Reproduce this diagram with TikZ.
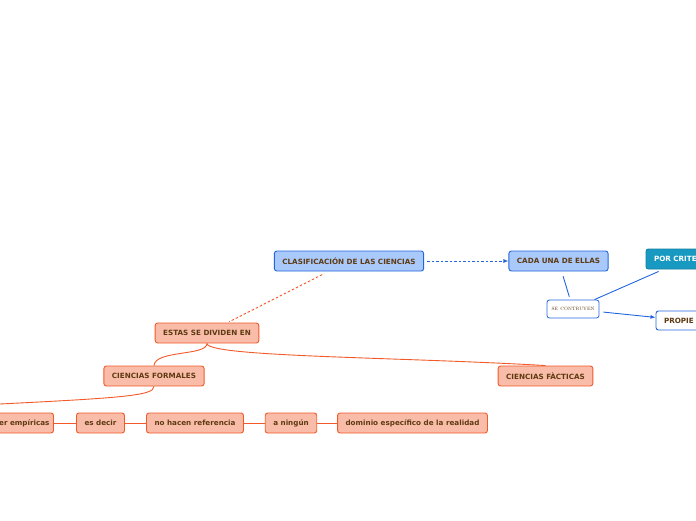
\documentclass[tikz,border=0pt]{standalone}
\usepackage{fontspec}
\newfontfamily\vfont{DejaVu Sans}
\usetikzlibrary{arrows.meta}
\definecolor{bfill}{HTML}{A9C9FA}
\definecolor{bline}{HTML}{2266DD}
\definecolor{tfill}{HTML}{1899C1}
\definecolor{ofill}{HTML}{F9BCA8}
\definecolor{oline}{HTML}{F25A2A}
\definecolor{txt}{HTML}{5E3A12}
\tikzset{
  base/.style={rounded corners=2.5pt, line width=0.9pt, minimum height=20pt, inner xsep=8pt, inner ysep=0pt,
    font=\vfont\bfseries\fontsize{7.2}{8}\selectfont, text=txt},
  bluebox/.style={base, draw=bline, fill=bfill},
  tealbox/.style={base, draw=tfill!85!black, fill=tfill, text=white},
  whitebox/.style={base, draw=bline, fill=white},
  smallbox/.style={rounded corners=2.5pt, line width=0.8pt, draw=bline, fill=white, minimum width=52pt, minimum height=18pt,
    inner sep=0pt, font=\fontsize{6.3}{6.3}\selectfont\scshape, text=txt},
  obox/.style={base, draw=oline, fill=ofill},
  bconn/.style={draw=bline, line width=0.9pt},
  oconn/.style={draw=oline, line width=0.9pt},
}
\begin{document}
\begin{tikzpicture}[x=1pt,y=-1pt]
\useasboundingbox (0,0) rectangle (696,520);
\clip (0,0) rectangle (696,520);
\fill[white] (0,0) rectangle (696,520);
% blue part
\node[bluebox] (clas) at (349,261) {CLASIFICACIÓN DE LAS CIENCIAS};
\node[bluebox] (cada) at (558.5,261) {CADA UNA DE ELLAS};
\node[tealbox, minimum width=82pt, text width=66pt, align=left] (por) at (687,259) {POR CRITE};
\node[whitebox, minimum height=19pt, minimum width=60pt, text width=44pt, align=left] (prop) at (686,320.5) {PROPIE};
\node[smallbox] (se) at (573,309) {se contruyen};
% orange part
\node[obox] (estas) at (207,333) {ESTAS SE DIVIDEN EN};
\node[obox] (form) at (154,376) {CIENCIAS FORMALES};
\node[obox] (fact) at (545.5,376) {CIENCIAS FÀCTICAS};
\node[obox, inner xsep=4pt, minimum width=80pt, text width=72pt, align=right] (ser) at (13.5,423) {er empíricas};
\node[obox] (es) at (100.5,423) {es decir};
\node[obox] (no) at (195,423) {no hacen referencia};
\node[obox] (ning) at (291,423) {a ningún};
\node[obox] (dom) at (412.5,423) {dominio específico de la realidad};
\coordinate (offleft) at (-20,405);
% connectors
\draw[bconn, dashed, dash pattern=on 2.5pt off 2pt, -{Latex[length=5pt,width=4pt]}, shorten <=3pt] (clas) -- (cada);
\draw[bconn, shorten <=5pt, shorten >=3pt] (cada) -- (se);
\draw[bconn, shorten >=5pt] (se) -- (por);
\draw[bconn, shorten <=4pt, -{Latex[length=5pt,width=4pt]}] (se) -- (prop);
\draw[oconn, dashed, dash pattern=on 2.5pt off 2pt, shorten <=7pt, shorten >=2pt] (clas) -- (estas);
\draw[oconn] (estas.south) .. controls (207,356) and (155,350) .. (form.north);
\draw[oconn] (estas.south) .. controls (207,357) and (400,357) .. (fact.north);
\draw[oconn] (form.south) .. controls (154,396) and (120,398) .. (offleft);
\draw[oconn] (ser) -- (es);
\draw[oconn] (es) -- (no);
\draw[oconn] (no) -- (ning);
\draw[oconn] (ning) -- (dom);
\end{tikzpicture}
\end{document}
